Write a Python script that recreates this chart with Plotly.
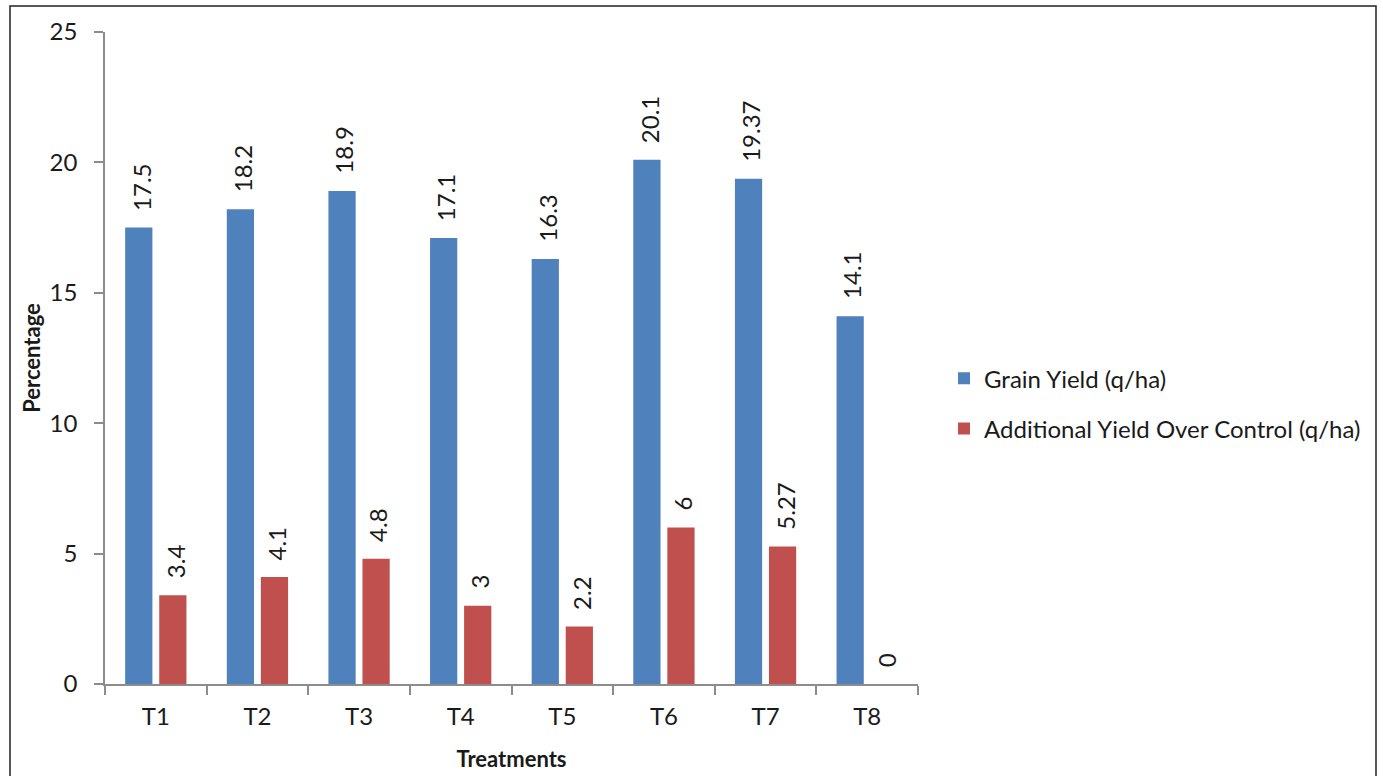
import plotly.graph_objects as go

# Treatment-wise yield data
treatments = ["T1", "T2", "T3", "T4", "T5", "T6", "T7", "T8"]
grain_yield = [17.5, 18.2, 18.9, 17.1, 16.3, 20.1, 19.37, 14.1]
additional_yield = [3.4, 4.1, 4.8, 3, 2.2, 6, 5.27, 0]
y_ticks = [0, 5, 10, 15, 20, 25]

BLUE = "#4F81BD"
RED = "#C0504D"
AXIS = "#8c8c8c"
TEXT = "#1a1a1a"
FONT = "Lato, 'Open Sans', sans-serif"
FS = 24

W, H = 1383, 776
L, R, T, B = 105, 465, 32, 92
plot_w = W - L - R
plot_h = H - T - B

fig = go.Figure()
fig.add_trace(go.Bar(
    x=treatments, y=grain_yield, name="Grain Yield (q/ha)",
    marker=dict(color=BLUE, line=dict(width=0)), legendgroup="a",
))
fig.add_trace(go.Bar(
    x=treatments, y=additional_yield, name="Additional Yield Over Control (q/ha)",
    marker=dict(color=RED, line=dict(width=0)), legendgroup="b",
))

# Rotated value labels above each bar
bargap = 0.33
slot = plot_w / len(treatments) * (1 - bargap) / 2
annotations = []
for series, shift in ((grain_yield, -slot / 2), (additional_yield, slot / 2)):
    for cat, val in zip(treatments, series):
        annotations.append(dict(
            x=cat, y=val, xref="x", yref="y", text=f"{val:g}",
            showarrow=False, textangle=-90, xanchor="center", yanchor="bottom",
            xshift=shift + 2, yshift=15, font=dict(family=FONT, size=FS, color=TEXT),
        ))

fig.update_layout(
    width=W, height=H,
    margin=dict(l=L, r=R, t=T, b=B, autoexpand=False),
    paper_bgcolor="white", plot_bgcolor="white",
    barmode="group", bargap=bargap, bargroupgap=0.2,
    font=dict(family=FONT, size=FS, color=TEXT),
    showlegend=True,
    legend=dict(
        x=1.032, y=0.43, xanchor="left", yanchor="middle",
        font=dict(family=FONT, size=FS, color=TEXT),
        traceorder="grouped", tracegroupgap=16, itemwidth=30,
        bgcolor="rgba(0,0,0,0)",
    ),
    xaxis=dict(
        showline=True, linecolor=AXIS, linewidth=1.5,
        ticks="outside", tickson="boundaries", ticklen=9, tickcolor=AXIS, tickwidth=1.5,
        showgrid=False, tickfont=dict(size=FS, color=TEXT), ticklabelstandoff=10,
        title=dict(text="<b>Treatments</b>", font=dict(size=22, color=TEXT), standoff=23),
    ),
    yaxis=dict(
        range=[0, 25], tickvals=y_ticks, showline=True, linecolor=AXIS, linewidth=1.5,
        ticks="outside", ticklen=9, tickcolor=AXIS, tickwidth=1.5,
        showgrid=False, zeroline=False, tickfont=dict(size=FS, color=TEXT), ticklabelstandoff=12,
        title=dict(text="<b>Percentage</b>", font=dict(size=22, color=TEXT), standoff=3),
    ),
    annotations=annotations,
    shapes=[dict(
        type="rect", xref="paper", yref="paper",
        x0=(10 - L) / plot_w, x1=(1376 - L) / plot_w,
        y0=(H - B - 790) / plot_h, y1=(H - B - 6) / plot_h,
        line=dict(color="#222222", width=1.5), fillcolor="rgba(0,0,0,0)", layer="below",
    )],
)

fig.write_html("out.html")
